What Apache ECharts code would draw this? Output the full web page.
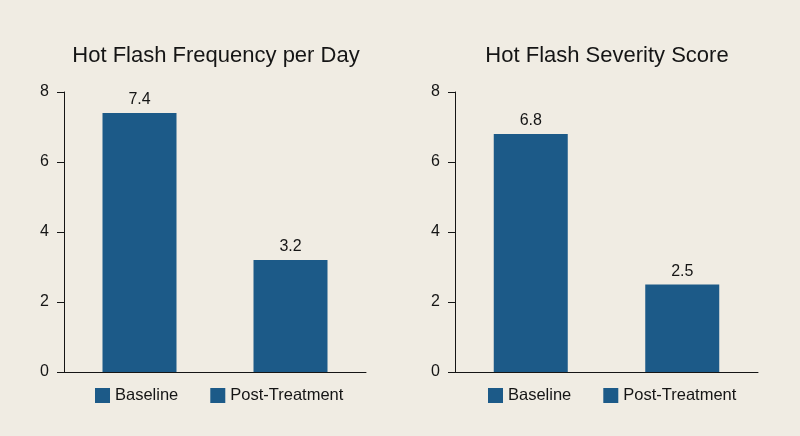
<!DOCTYPE html>
<html lang="en">
<head>
    <meta charset="UTF-8">
    <title>Hot Flash Outcomes</title>
    <script src="https://cdn.jsdelivr.net/npm/echarts@6/dist/echarts.min.js"></script>
    <style>
        html, body, #content {
            width: 100%;
            height: 100%;
            margin: 0;
            background: #f0ece3;
        }
    </style>
</head>
<body>
    <div id="content"></div>
    <script>
        // data
        var groups = ['Baseline', 'Post-Treatment'];
        var panelTitles = ['Hot Flash Frequency per Day', 'Hot Flash Severity Score'];
        var frequency = [7.4, 3.2];
        var severity = [6.8, 2.5];
        var yTicks = { min: 0, max: 8, interval: 2 };

        var barColor = '#1c5a88';
        var inkColor = '#151515';
        var font = 'Liberation Sans, Arial, sans-serif';

        var chart = echarts.init(document.getElementById('content'));

        var grids = [
            { left: 64, top: 92, width: 302, height: 280 },
            { left: 455, top: 92, width: 303, height: 280 }
        ];
        var titleX = [211, 602];
        var legendX = [95, 488];
        var panels = [frequency, severity];

        var option = {
            backgroundColor: '#f0ece3',
            textStyle: { fontFamily: font },
            title: [],
            legend: [],
            grid: grids,
            xAxis: [],
            yAxis: [],
            series: []
        };

        panels.forEach(function (values, p) {
            option.title.push({
                text: panelTitles[p],
                left: titleX[p],
                top: 40,
                textAlign: 'center',
                textStyle: { fontSize: 22, fontWeight: 500, color: inkColor, fontFamily: font }
            });
            option.legend.push({
                data: groups,
                left: legendX[p],
                top: 387,
                padding: 0,
                itemWidth: 15,
                itemHeight: 15,
                itemGap: 32,
                icon: 'rect',
                selectedMode: false,
                textStyle: { fontSize: 16.5, color: inkColor, fontFamily: font }
            });
            option.xAxis.push({
                type: 'category',
                gridIndex: p,
                data: groups,
                axisLine: { lineStyle: { color: inkColor, width: 1 } },
                axisTick: { show: false },
                axisLabel: { show: false }
            });
            option.yAxis.push({
                type: 'value',
                gridIndex: p,
                min: yTicks.min,
                max: yTicks.max,
                interval: yTicks.interval,
                axisLine: { show: true, lineStyle: { color: inkColor, width: 1 } },
                axisTick: { show: true, length: 7, lineStyle: { color: inkColor } },
                axisLabel: { fontSize: 16, color: inkColor, margin: 15, fontFamily: font },
                splitLine: { show: false }
            });
            groups.forEach(function (name, i) {
                var data = groups.map(function (g, j) { return j === i ? values[j] : '-'; });
                option.series.push({
                    name: name,
                    type: 'bar',
                    xAxisIndex: p,
                    yAxisIndex: p,
                    data: data,
                    barWidth: 74,
                    barGap: '-100%',
                    itemStyle: { color: barColor },
                    label: {
                        show: true,
                        position: 'top',
                        distance: 5,
                        fontSize: 16,
                        color: inkColor,
                        fontFamily: font
                    }
                });
            });
        });

        chart.setOption(option);
        window.onresize = chart.resize;
    </script>
</body>
</html>
